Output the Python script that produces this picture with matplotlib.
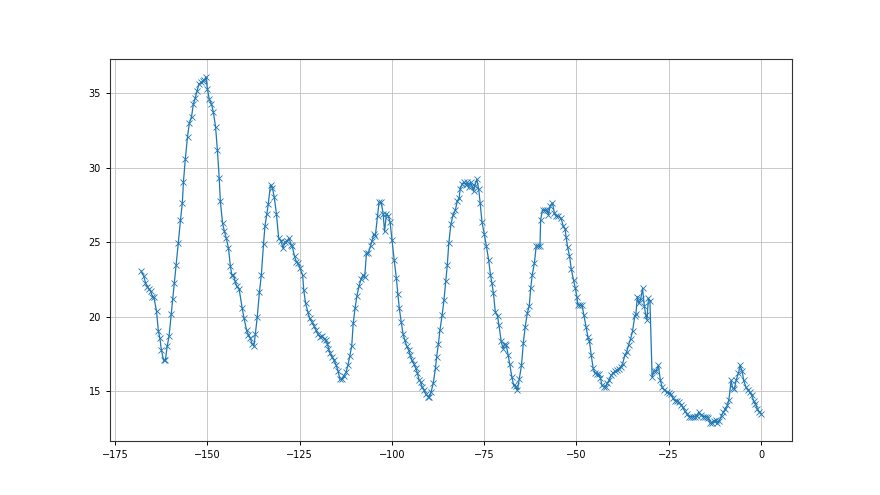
import matplotlib
matplotlib.use("Agg")
import matplotlib.pyplot as plt

x_vals = [
    -168.0, -167.3, -166.8, -166.3, -165.8, -165.4, -164.9, -164.5, -163.8, -163.3,
    -162.9, -162.5, -161.9, -161.4, -160.9, -160.4, -159.8, -159.4, -159.0, -158.5,
    -157.9, -157.3, -156.8, -156.5, -156.0, -155.4, -154.9, -154.3, -153.8, -153.3,
    -152.8, -152.3, -151.7, -151.3, -150.8, -150.4, -150.0, -149.5, -148.9, -148.4,
    -147.8, -147.3, -146.8, -146.5, -145.9, -145.4, -144.9, -144.3, -143.8, -143.4,
    -143.0, -142.5, -142.1, -141.4, -140.6, -140.1, -139.4, -138.9,
    -138.4, -137.9, -137.4, -137.0, -136.5, -135.9, -135.4, -134.8, -134.4, -133.9,
    -133.5, -132.9, -132.4, -131.9, -131.3, -130.7, -130.1, -129.5, -129.0, -128.4,
    -127.9, -127.3, -127.0, -126.4, -125.9, -125.4, -124.9, -124.2, -123.9, -123.4,
    -122.8, -122.3, -121.7, -121.1, -120.6, -120.0, -119.5, -119.0, -118.4, -117.9,
    -117.5, -117.2, -116.8, -116.2, -115.7, -115.1, -114.6, -114.1, -113.6, -113.1,
    -112.4, -111.9, -111.4, -110.9, -110.5, -110.0, -109.5, -108.9,
    -108.4, -107.8, -107.4, -106.9, -106.4, -105.8, -105.4, -104.9, -104.5, -103.9,
    -103.5, -102.9, -102.4, -102.0, -101.5, -101.0, -100.5, -100.0, -99.4, -98.8,
    -98.4, -98.0, -97.5, -97.0, -96.5, -96.0, -95.5, -95.0, -94.6, -94.0,
    -93.6, -93.1, -92.7, -92.2, -91.8, -91.3, -90.8, -90.2, -89.9, -89.4,
    -88.8, -88.2, -87.9, -87.4, -87.0, -86.4, -85.9, -85.4, -85.0, -84.6,
    -84.0, -83.4, -82.8, -82.3, -81.8,
    -81.5, -80.9, -80.5, -80.0, -79.6, -79.2, -78.7, -78.3, -77.9, -77.6,
    -77.0, -76.5, -76.1, -75.6, -75.0, -74.4, -73.8, -73.3, -72.9, -72.5,
    -72.0, -71.4, -71.0, -70.4, -69.9, -69.5, -69.0, -68.5, -68.1, -67.5,
    -67.0, -66.5, -66.0, -65.5, -64.9, -64.4, -63.9, -63.3, -62.8, -62.4,
    -62.0, -61.4, -60.9, -60.4, -59.9, -59.7, -59.2, -58.6, -58.1, -57.6,
    -57.1, -56.5, -56.0, -55.5, -54.9,
    -54.2, -53.6, -53.1, -52.8, -52.4, -51.9, -51.4, -50.8, -50.3, -49.9,
    -49.6, -49.0, -48.5, -48.0, -47.4, -46.9, -46.5, -46.0, -45.5, -45.0,
    -44.4, -43.9, -43.5, -43.1, -42.5, -42.1, -41.6, -41.1, -40.6, -40.1,
    -39.6, -39.0, -38.6, -38.0, -37.5, -36.9, -36.4, -35.9, -35.3, -34.8,
    -34.2, -33.9, -33.5, -33.1, -32.6, -32.1, -31.6, -31.2, -30.9, -30.5,
    -30.1, -29.5, -29.0, -28.4, -27.8, -27.3, -26.8, -26.2, -25.6, -25.0,
    -24.5, -23.9, -23.4, -22.8, -22.3, -21.8, -21.2, -20.7, -20.1, -19.6,
    -19.1, -18.5, -18.0, -17.4, -16.9, -16.3, -15.8, -15.3, -14.7, -14.3,
    -13.8, -13.3, -12.7, -12.3, -11.8, -11.3, -10.7, -10.2, -9.7, -9.1,
    -8.7, -8.1, -7.7, -7.2, -6.7, -6.1, -5.7, -5.1, -4.7, -4.1,
    -3.6, -3.1, -2.5, -2.0, -1.5, -1.0, -0.45, 0.0,
]

y_vals = [
    23.08, 22.77, 22.30, 22.03, 21.85, 21.73, 21.35, 21.31, 20.39, 19.06,
    18.61, 17.81, 17.09, 17.09, 18.03, 18.70, 20.19, 21.20, 22.25, 23.46,
    24.94, 26.49, 27.64, 29.05, 30.56, 32.08, 32.98, 33.43, 34.28, 34.66,
    35.16, 35.61, 35.72, 35.79, 35.90, 36.10, 35.27, 34.60, 34.26, 33.74,
    32.76, 31.18, 29.28, 27.75, 26.29, 25.73, 25.28, 24.61, 23.44, 22.81,
    22.81, 22.41, 22.07, 21.85, 20.61, 19.94, 19.11, 18.80,
    18.59, 18.21, 18.05, 18.88, 20.00, 21.69, 22.79, 24.90, 26.11, 26.90,
    27.59, 28.87, 28.65, 28.04, 26.90, 25.28, 25.10, 24.61, 25.01, 25.10,
    25.28, 24.83, 24.72, 24.05, 23.69, 23.60, 23.26, 22.79, 21.80, 20.90,
    20.34, 19.90, 19.67, 19.38, 19.11, 18.84, 18.66, 18.73, 18.55, 18.48,
    18.21, 17.87, 17.58, 17.31, 17.09, 16.75, 16.37, 15.81, 15.81, 16.03,
    16.30, 16.80, 17.40, 18.03, 19.56, 20.57, 21.40, 22.07,
    22.52, 22.81, 22.65, 24.27, 24.27, 24.76, 25.12, 25.55, 25.44, 26.78,
    27.68, 27.68, 26.92, 25.73, 26.90, 26.78, 26.34, 25.17, 23.82, 22.59,
    21.53, 20.57, 19.67, 18.88, 18.43, 18.03, 17.81, 17.42, 17.09, 16.82,
    16.59, 16.23, 15.79, 15.63, 15.29, 15.07, 14.80, 14.66, 14.66, 14.96,
    15.56, 16.59, 17.31, 18.21, 19.11, 20.12, 21.13, 22.43, 23.48, 24.94,
    26.25, 26.85, 27.19, 27.75, 27.97,
    28.60, 28.94, 29.03, 28.87, 29.03, 28.72, 29.03, 28.76, 28.42, 28.76,
    29.21, 28.58, 27.64, 26.34, 25.57, 24.72, 23.82, 22.81, 22.25, 21.58,
    20.34, 20.05, 19.44, 18.37, 17.87, 18.21, 18.10, 17.42, 16.86, 15.96,
    15.40, 15.34, 15.07, 15.85, 16.75, 18.25, 19.33, 20.27, 20.72, 21.92,
    22.81, 23.60, 24.76, 24.76, 24.72, 26.52, 27.19, 27.14, 27.19, 26.85,
    27.46, 27.64, 26.97, 26.74, 26.74,
    26.63, 26.11, 25.89, 25.33, 24.67, 24.09, 23.19, 22.47, 21.91, 21.35,
    20.79, 20.79, 20.79, 20.12, 19.33, 18.66, 18.39, 17.42, 16.59, 16.23,
    16.19, 16.14, 15.92, 15.40, 15.29, 15.29, 15.56, 15.79, 16.08, 16.23,
    16.35, 16.41, 16.53, 16.64, 16.86, 17.42, 17.65, 18.10, 18.55, 19.06,
    20.05, 20.19, 21.35, 20.90, 21.17, 21.91, 20.70, 20.10, 19.80, 21.24,
    21.08, 15.96, 16.37, 16.37, 16.75, 15.79, 15.29, 15.11, 14.96, 14.89,
    14.84, 14.57, 14.39, 14.35, 14.28, 14.12, 13.94, 13.72, 13.50, 13.32,
    13.32, 13.32, 13.32, 13.38, 13.61, 13.43, 13.32, 13.32, 13.32, 13.23,
    12.87, 12.87, 13.05, 13.09, 12.87, 13.05, 13.38, 13.61, 13.83, 14.06,
    14.44, 15.74, 15.25, 15.18, 15.79, 16.23, 16.75, 16.37, 15.74, 15.29,
    15.11, 14.96, 14.73, 14.39, 14.17, 13.83, 13.61, 13.52,
]

fig, ax = plt.subplots(figsize=(8.8, 4.95), dpi=100)
ax.plot(x_vals, y_vals, color="#1f77b4", linewidth=0.9, marker="x",
        markersize=4, markeredgewidth=0.6)
ax.grid(True, color="#c0c0c0", linewidth=0.6)
ax.set_axisbelow(True)
ax.tick_params(labelsize=7, length=3, width=0.7)
for s in ax.spines.values():
    s.set_linewidth(0.8)
    s.set_color("#333333")
fig.savefig("out.png", dpi=100)
